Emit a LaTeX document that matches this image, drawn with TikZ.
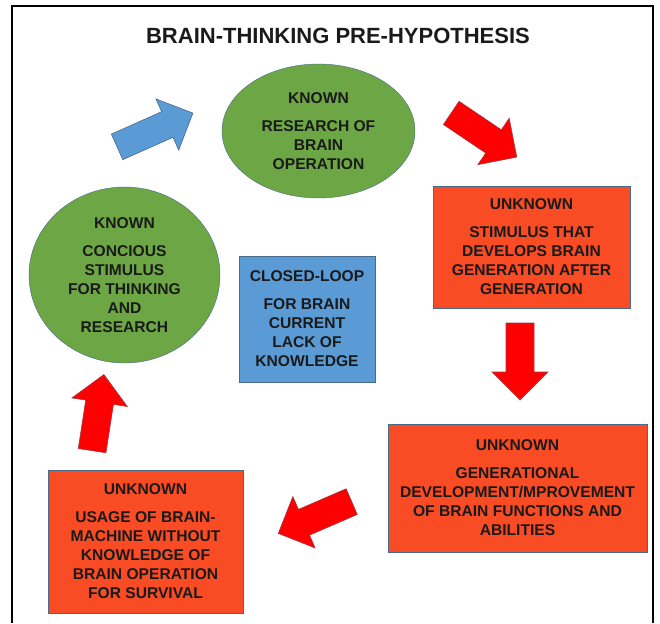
\documentclass[tikz,border=0pt]{standalone}
\usepackage{fontspec}
\setmainfont{Liberation Sans}
\usetikzlibrary{shapes.geometric}
\definecolor{BTGreen}{HTML}{6CA645}
\definecolor{BTRed}{HTML}{F94B24}
\definecolor{BTArrow}{HTML}{FF0000}
\definecolor{BTBlue}{HTML}{5B9BD5}
\definecolor{BTEdge}{HTML}{4A6A8C}
\definecolor{BTText}{HTML}{1A1A1A}
\begin{document}
\begin{tikzpicture}[
 x=1pt,y=-1pt,
 txt/.style={font=\fontsize{15.6}{19}\selectfont\bfseries,text=BTText,align=center},
 known/.style={ellipse,draw=BTEdge,fill=BTGreen,inner sep=0pt,txt},
 unknown/.style={rectangle,draw=BTEdge,fill=BTRed,inner sep=0pt,txt},
 loopbox/.style={rectangle,draw=BTEdge,fill=BTBlue,inner sep=0pt,txt},
 redarrow/.style={fill=BTArrow,draw=BTEdge!50!BTArrow,line width=0.6pt},
 bluearrow/.style={fill=BTBlue,draw=BTEdge,line width=0.6pt},
 pics/fatarrow/.style={code={
   \filldraw[pic actions] (-#1/2,-14) -- (#1/2-28,-14) -- (#1/2-28,-28) -- (#1/2,0)
     -- (#1/2-28,28) -- (#1/2-28,14) -- (-#1/2,14) -- cycle;}}
]
\useasboundingbox (0,0) rectangle (660,623);
\draw[line width=1.2pt] (12,623) -- (12,6) -- (653,6) -- (653,623);
\node[font=\fontsize{22}{26}\selectfont\bfseries,text=BTText] (title) at (338,36) {BRAIN-THINKING PRE-HYPOTHESIS};

\node[known,minimum width=193,minimum height=134] (research) at (318.5,131) {KNOWN\\[9pt]RESEARCH OF\\BRAIN\\OPERATION};
\node[known,minimum width=191,minimum height=176] (stimulus) at (124.5,275) {KNOWN\\[9pt]CONCIOUS\\STIMULUS\\FOR THINKING\\AND\\RESEARCH};
\node[loopbox,minimum width=136,minimum height=126] (loop) at (307,319) {CLOSED-LOOP\\[9pt]FOR BRAIN\\CURRENT\\LACK OF\\KNOWLEDGE};
\node[unknown,minimum width=197,minimum height=122] (generation) at (531.5,247) {UNKNOWN\\[9pt]STIMULUS THAT\\DEVELOPS BRAIN\\GENERATION AFTER\\GENERATION};
\node[unknown,minimum width=259,minimum height=128] (improve) at (517.5,488) {UNKNOWN\\[9pt]GENERATIONAL\\DEVELOPMENT/MPROVEMENT\\OF BRAIN FUNCTIONS AND\\ABILITIES};
\node[unknown,minimum width=195,minimum height=143] (usage) at (145.5,541.5) {UNKNOWN\\[9pt]USAGE OF BRAIN-\\MACHINE WITHOUT\\KNOWLEDGE OF\\BRAIN OPERATION\\FOR SURVIVAL};

\pic[bluearrow,rotate=24] at (155,130) {fatarrow=83};
\pic[redarrow,rotate=-34] at (484,135) {fatarrow=79};
\pic[redarrow,rotate=-90] at (520,361.5) {fatarrow=77};
\pic[redarrow,rotate=203.4] at (315,517.5) {fatarrow=80};
\pic[redarrow,rotate=81.2] at (98,412.6) {fatarrow=77};
\end{tikzpicture}
\end{document}
